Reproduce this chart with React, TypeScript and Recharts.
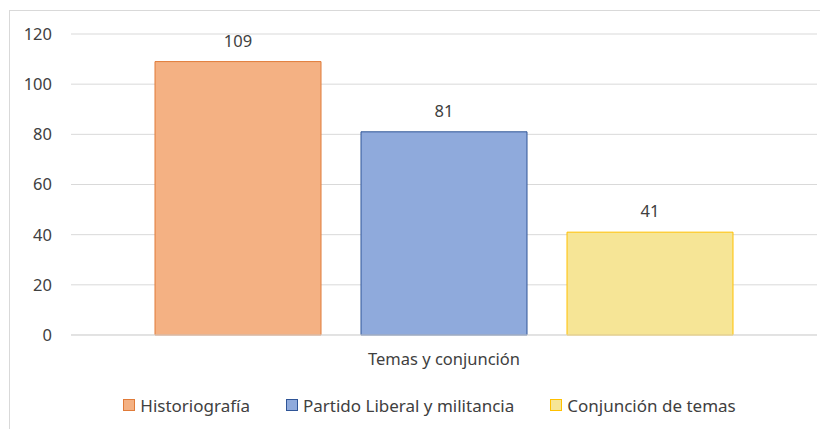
import { BarChart, Bar, XAxis, YAxis, CartesianGrid, Legend, LabelList } from 'recharts';

const categories = ['Temas y conjunción'];
const seriesNames = ['Historiografía', 'Partido Liberal y militancia', 'Conjunción de temas'];
const seriesValues = [109, 81, 41];
const yTicks = [0, 20, 40, 60, 80, 100, 120];

const FILLS = ['#F4B183', '#8FAADC', '#F6E596'];
const STROKES = ['#E07B39', '#2F5597', '#FFC000'];
const KEYS = ['s0', 's1', 's2'];

const data = categories.map((name) => {
  const row: { [key: string]: string | number } = { name };
  seriesValues.forEach((v, i) => {
    row[KEYS[i]] = v;
  });
  return row;
});

const FONT = '"Noto Sans", sans-serif';
const TEXT = '#404040';
const FS = 16.5;

const renderLegend = () => (
  <div style={{ display: 'flex', justifyContent: 'center', alignItems: 'center', height: 24, paddingLeft: 34, fontFamily: FONT, fontSize: 17, color: TEXT }}>
    {seriesNames.map((n, i) => (
      <div key={n} style={{ display: 'flex', alignItems: 'center', marginRight: i < seriesNames.length - 1 ? 36 : 0 }}>
        <span style={{ display: 'inline-block', width: 10, height: 10, background: FILLS[i], border: `1px solid ${STROKES[i]}`, marginRight: 5 }} />
        <span>{n}</span>
      </div>
    ))}
  </div>
);

export default function App() {
  return (
    <div style={{ position: 'relative', width: 820, height: 421, overflow: 'hidden', background: '#fff' }}>
      <div style={{ position: 'absolute', left: 1, top: 2, width: 900, height: 500, border: '1px solid #D9D9D9' }} />
      <div style={{ position: 'absolute', left: 0, top: 0 }}>
        <BarChart
          width={820}
          height={421}
          data={data}
          margin={{ top: 26, right: 11, left: 0, bottom: 12 }}
          barCategoryGap={84}
          barGap={40}
        >
          <CartesianGrid vertical={false} stroke="#D9D9D9" />
          <XAxis
            dataKey="name"
            height={58}
            axisLine={{ stroke: '#D9D9D9' }}
            tickLine={false}
            tickMargin={12}
            tick={{ fill: TEXT, fontSize: FS, fontFamily: FONT }}
          />
          <YAxis
            width={63}
            domain={[0, 120]}
            ticks={yTicks}
            axisLine={false}
            tickLine={false}
            tickMargin={13}
            tick={{ fill: TEXT, fontSize: FS, fontFamily: FONT }}
          />
          <Legend verticalAlign="bottom" content={renderLegend} />
          {KEYS.map((k, i) => (
            <Bar key={k} dataKey={k} name={seriesNames[i]} fill={FILLS[i]} stroke={STROKES[i]} strokeWidth={1} isAnimationActive={false}>
              <LabelList dataKey={k} position="top" offset={15} fill={TEXT} fontSize={FS} fontFamily={FONT} />
            </Bar>
          ))}
        </BarChart>
      </div>
    </div>
  );
}
